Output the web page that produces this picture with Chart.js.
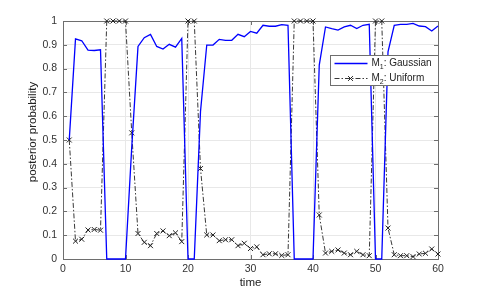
<!DOCTYPE html>
<html>
<head>
<meta charset="utf-8">
<script src="https://cdn.jsdelivr.net/npm/chart.js@4"></script>
<style>
  html, body { margin: 0; padding: 0; background: #fff; }
  #wrap { width: 485px; height: 291px; }
</style>
</head>
<body>
<div id="wrap"><canvas id="postChart" width="485" height="291"></canvas></div>
<script>
// time steps
const time = [1, 2, 3, 4, 5, 6, 7, 8, 9, 10, 11, 12, 13, 14, 15, 16, 17, 18, 19, 20,
  21, 22, 23, 24, 25, 26, 27, 28, 29, 30, 31, 32, 33, 34, 35, 36, 37, 38, 39, 40,
  41, 42, 43, 44, 45, 46, 47, 48, 49, 50, 51, 52, 53, 54, 55, 56, 57, 58, 59, 60];

// M1: Gaussian posterior
const gaussian = [0.5, 0.925, 0.917, 0.878, 0.876, 0.879, 0, 0, 0, 0,
  0.47, 0.893, 0.93, 0.944, 0.893, 0.882, 0.902, 0.89, 0.927, 0,
  0, 0.62, 0.899, 0.899, 0.923, 0.919, 0.919, 0.944, 0.934, 0.956,
  0.949, 0.982, 0.978, 0.978, 0.985, 0.982, 0, 0, 0, 0,
  0.815, 0.975, 0.968, 0.962, 0.975, 0.982, 0.968, 0.982, 0.986, 0,
  0, 0.87, 0.982, 0.986, 0.986, 0.99, 0.979, 0.976, 0.958, 0.979];

// M2: Uniform posterior
const uniform = [0.5, 0.075, 0.083, 0.122, 0.124, 0.121, 1, 1, 1, 1,
  0.53, 0.107, 0.07, 0.056, 0.107, 0.118, 0.098, 0.11, 0.073, 1,
  1, 0.38, 0.101, 0.101, 0.077, 0.081, 0.081, 0.056, 0.066, 0.044,
  0.051, 0.018, 0.022, 0.022, 0.015, 0.018, 1, 1, 1, 1,
  0.185, 0.025, 0.032, 0.038, 0.025, 0.018, 0.032, 0.018, 0.014, 1,
  1, 0.13, 0.018, 0.014, 0.014, 0.01, 0.021, 0.024, 0.042, 0.021];

const xTicks = [0, 10, 20, 30, 40, 50, 60];
const yTicks = [0, 0.1, 0.2, 0.3, 0.4, 0.5, 0.6, 0.7, 0.8, 0.9, 1];
const yTickLabels = ["0", "0.1", "0.2", "0.3", "0.4", "0.5", "0.6", "0.7", "0.8", "0.9", "1"];

// legend text pieces: main, subscript, rest
const legendParts = [["M", "1", ": Gaussian"], ["M", "2", ": Uniform"]];
const yTitle = "posterior probability";

const FONT = "'Liberation Sans', Arial, sans-serif";

/* ---------------------------------------------------
    matlab style box + inward ticks
----------------------------------------------------- */
const boxPlugin = {
  id: "boxPlugin",
  beforeDatasetsDraw(chart) {
    const { ctx, chartArea: a, scales } = chart;
    ctx.save();
    ctx.strokeStyle = "#6e6e6e";
    ctx.lineWidth = 1;
    ctx.strokeRect(Math.round(a.left) + 0.5, Math.round(a.top) + 0.5,
      Math.round(a.right - a.left), Math.round(a.bottom - a.top));
    ctx.beginPath();
    xTicks.forEach(v => {
      const px = Math.round(scales.x.getPixelForValue(v)) + 0.5;
      ctx.moveTo(px, a.bottom); ctx.lineTo(px, a.bottom - 4);
      ctx.moveTo(px, a.top); ctx.lineTo(px, a.top + 4);
    });
    yTicks.forEach(v => {
      const py = Math.round(scales.y.getPixelForValue(v)) + 0.5;
      ctx.moveTo(a.left, py); ctx.lineTo(a.left + 4, py);
      ctx.moveTo(a.right, py); ctx.lineTo(a.right - 4, py);
    });
    ctx.stroke();

    // y axis title, a bit above the middle like the original
    ctx.translate(33, (a.top + a.bottom) / 2 - 8);
    ctx.rotate(-Math.PI / 2);
    ctx.fillStyle = "#222";
    ctx.font = "11.5px " + FONT;
    ctx.textAlign = "center";
    ctx.textBaseline = "middle";
    ctx.fillText(yTitle, 0, 0);
    ctx.restore();
  },
  afterDraw(chart) {
    // legend box in the upper right
    const ctx = chart.ctx;
    const a = chart.chartArea;
    const bx = 330.5, by = 55.5, bw = Math.round(a.right) - 330, bh = 30;
    ctx.save();
    ctx.fillStyle = "#fff";
    ctx.fillRect(bx, by, bw, bh);
    ctx.strokeStyle = "#6e6e6e";
    ctx.lineWidth = 1;
    ctx.strokeRect(bx, by, bw, bh);
    chart.data.datasets.forEach((ds, i) => {
      const y = by + 8 + i * 15;
      ctx.save();
      ctx.strokeStyle = ds.borderColor;
      ctx.lineWidth = ds.borderWidth;
      ctx.setLineDash(ds.borderDash || []);
      ctx.beginPath();
      ctx.moveTo(bx + 4, y);
      ctx.lineTo(bx + 37, y);
      ctx.stroke();
      ctx.restore();
      if (ds.pointRadius > 0) {
        const cx = bx + 20, r = 2.4;
        ctx.strokeStyle = ds.pointBorderColor;
        ctx.lineWidth = 1;
        ctx.beginPath();
        ctx.moveTo(cx - r, y - r); ctx.lineTo(cx + r, y + r);
        ctx.moveTo(cx - r, y + r); ctx.lineTo(cx + r, y - r);
        ctx.stroke();
      }
      const parts = legendParts[i];
      let tx = bx + 41;
      ctx.fillStyle = "#222";
      ctx.textBaseline = "middle";
      ctx.font = "10px " + FONT;
      ctx.fillText(parts[0], tx, y);
      tx += ctx.measureText(parts[0]).width;
      ctx.font = "7px " + FONT;
      ctx.fillText(parts[1], tx, y + 3.5);
      tx += ctx.measureText(parts[1]).width;
      ctx.font = "10px " + FONT;
      ctx.fillText(parts[2], tx, y);
    });
    ctx.restore();
  }
};

new Chart(document.getElementById("postChart"), {
  type: "line",
  data: {
    datasets: [
      {
        label: "M\u2081: Gaussian",
        data: time.map((t, i) => ({ x: t, y: gaussian[i] })),
        borderColor: "#0000ff",
        borderWidth: 1.3,
        pointRadius: 0,
        tension: 0,
        clip: 4,
      },
      {
        label: "M\u2082: Uniform",
        data: time.map((t, i) => ({ x: t, y: uniform[i] })),
        borderColor: "#222",
        borderWidth: 0.9,
        borderDash: [5, 2, 1.5, 2],
        pointStyle: "crossRot",
        pointRadius: 3.5,
        pointBorderColor: "#222",
        pointBorderWidth: 1,
        tension: 0,
        clip: 6,
      },
    ],
  },
  options: {
    responsive: false,
    animation: false,
    devicePixelRatio: 1,
    layout: { padding: { left: 0, right: 47, top: 21, bottom: 0 } },
    plugins: { legend: { display: false }, tooltip: { enabled: false } },
    scales: {
      x: {
        type: "linear",
        min: 0,
        max: 60,
        afterFit(s) { s.height = 32; },
        afterBuildTicks(s) { s.ticks = xTicks.map(v => ({ value: v })); },
        grid: { color: "#e8e8e8", drawTicks: false },
        border: { display: false },
        ticks: { color: "#333", padding: 4, font: { family: FONT, size: 10.5 }, maxRotation: 0 },
        title: { display: true, text: "time", color: "#222", font: { family: FONT, size: 11.5 }, padding: { top: 0, bottom: 1 } },
      },
      y: {
        type: "linear",
        min: 0,
        max: 1,
        afterFit(s) { s.width = 63; },
        afterBuildTicks(s) { s.ticks = yTicks.map(v => ({ value: v })); },
        grid: { color: "#e8e8e8", drawTicks: false },
        border: { display: false },
        ticks: {
          color: "#333", padding: 6, font: { family: FONT, size: 10.5 },
          callback: (v) => yTickLabels[yTicks.indexOf(v)] ?? String(v),
        },
      },
    },
  },
  plugins: [boxPlugin],
});
</script>
</body>
</html>
